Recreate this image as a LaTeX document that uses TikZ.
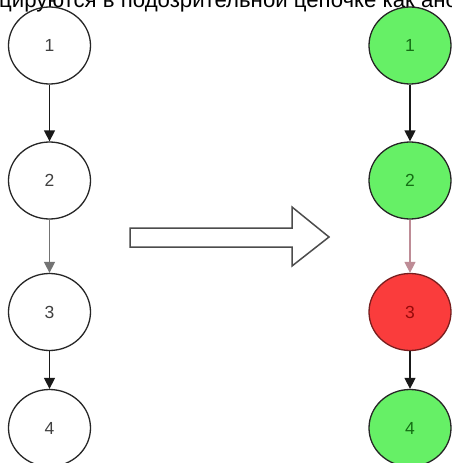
\documentclass[tikz,border=0pt]{standalone}
\usepackage{fontspec}
\setmainfont{Liberation Sans}
\usetikzlibrary{shapes.geometric,arrows.meta}
\definecolor{gfill}{RGB}{102,240,102}
\definecolor{gtext}{RGB}{20,110,20}
\definecolor{rfill}{RGB}{250,60,60}
\definecolor{rtext}{RGB}{150,10,10}
\definecolor{rline}{RGB}{120,30,30}
\definecolor{pinkarr}{RGB}{190,140,150}
\tikzset{
  vnode/.style={ellipse, draw=black!85, line width=1.3pt, minimum width=82pt, minimum height=77pt, inner sep=0pt, font=\fontsize{17.5}{20}\selectfont, text=black!75},
  gnode/.style={vnode, fill=gfill, text=gtext},
  rnode/.style={vnode, fill=rfill, draw=rline, text=rtext},
  conn/.style={line width=1.4pt, draw=black!90, -{Triangle[length=11pt,width=11pt]}},
  bigarrow/.style={draw=black!70, line width=1.5pt, fill=white, line join=miter}
}
\begin{document}
\begin{tikzpicture}[x=1pt,y=-1pt]
\useasboundingbox (0,0) rectangle (452,463);
\clip (0,0) rectangle (452,463);
\fill[white] (0,0) rectangle (452,463);
\node[anchor=base west, inner sep=0pt, font=\fontsize{22.2}{26}\selectfont] (cap) at (-1,7.5) {цируются в подозрительной цепочке как аномальные};
% left chain
\node[vnode] (l1) at (49.5,45.5) {1};
\node[vnode] (l2) at (49.5,180.5) {2};
\node[vnode] (l3) at (49.5,312) {3};
\node[vnode] (l4) at (49.5,428) {4};
\draw[conn] (l1) -- (l2);
\draw[conn, draw=black!55] (l2) -- (l3);
\draw[conn] (l3) -- (l4);
% right chain
\node[gnode] (r1) at (410,45.5) {1};
\node[gnode] (r2) at (410,180.5) {2};
\node[rnode] (r3) at (410,312) {3};
\node[gnode] (r4) at (410,428) {4};
\draw[conn] (r1) -- (r2);
\draw[conn, draw=pinkarr] (r2) -- (r3);
\draw[conn] (r3) -- (r4);
% big arrow
\draw[bigarrow] (130,228) -- (292,228) -- (292,207) -- (329,237) -- (292,266) -- (292,247) -- (130,247) -- cycle;
\end{tikzpicture}
\end{document}
